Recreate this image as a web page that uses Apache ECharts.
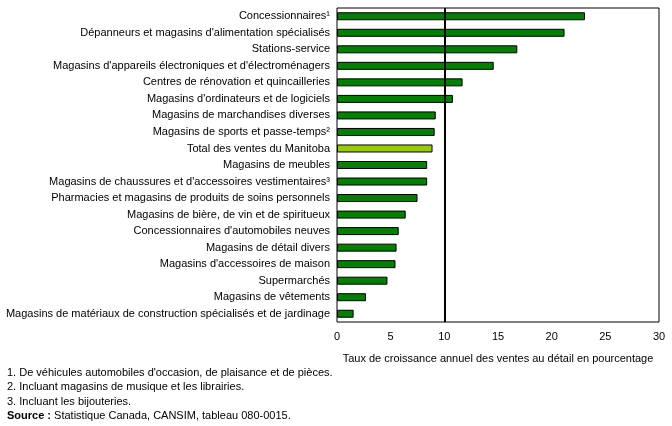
<!DOCTYPE html>
<html>
<head>
<meta charset="utf-8">
<script src="https://cdn.jsdelivr.net/npm/echarts@6/dist/echarts.min.js"></script>
<style>
  html, body { margin: 0; padding: 0; background: #fff; }
  #chart { width: 672px; height: 426px; }
</style>
</head>
<body>
<div id="chart"></div>
<script>
// catégories, de haut en bas
const categories = [
  'Concessionnaires¹',
  'Dépanneurs et magasins d\'alimentation spécialisés',
  'Stations-service',
  'Magasins d\'appareils électroniques et d\'électroménagers',
  'Centres de rénovation et quincailleries',
  'Magasins d\'ordinateurs et de logiciels',
  'Magasins de marchandises diverses',
  'Magasins de sports et passe-temps²',
  'Total des ventes du Manitoba',
  'Magasins de meubles',
  'Magasins de chaussures et d\'accessoires vestimentaires³',
  'Pharmacies et magasins de produits de soins personnels',
  'Magasins de bière, de vin et de spiritueux',
  'Concessionnaires d\'automobiles neuves',
  'Magasins de détail divers',
  'Magasins d\'accessoires de maison',
  'Supermarchés',
  'Magasins de vêtements',
  'Magasins de matériaux de construction spécialisés et de jardinage'
]
const growth = [23.1, 21.2, 16.8, 14.6, 11.7, 10.8, 9.2, 9.1, 8.9, 8.4, 8.4, 7.5, 6.4, 5.75, 5.55, 5.45, 4.7, 2.7, 1.55]
const totalLabel = 'Total des ventes du Manitoba'
const xTicks = [0, 5, 10, 15, 20, 25, 30]
const refValue = 10
const footnotes = [
  '1. De véhicules automobiles d\'occasion, de plaisance et de pièces.',
  '2. Incluant magasins de musique et les librairies.',
  '3. Incluant les bijouteries.'
]
const sourceNote = 'Statistique Canada, CANSIM, tableau 080-0015.'

const font = 'Liberation Sans, Arial, sans-serif'
const myChart = echarts.init(document.getElementById('chart'))

const option = {
  animation: false,
  grid: { left: 337, right: 13, top: 8, bottom: 104, show: true, borderColor: '#000', borderWidth: 1 },
  xAxis: {
    type: 'value',
    min: xTicks[0],
    max: xTicks[xTicks.length - 1],
    interval: 5,
    axisLine: { show: false },
    axisTick: { show: false },
    splitLine: { show: false },
    axisLabel: { color: '#000', fontSize: 11, fontFamily: font, margin: 9 },
    name: 'Taux de croissance annuel des ventes au détail en pourcentage',
    nameLocation: 'middle',
    nameGap: 31,
    nameTextStyle: { color: '#000', fontSize: 11, fontFamily: font }
  },
  yAxis: {
    type: 'category',
    inverse: true,
    data: categories,
    axisLine: { show: false },
    axisTick: { show: false },
    axisLabel: { color: '#000', fontSize: 11, fontFamily: font, margin: 7 }
  },
  series: [{
    type: 'bar',
    barWidth: 8,
    data: growth.map((v, i) => ({
      value: v,
      itemStyle: { color: categories[i] === totalLabel ? '#99cc00' : '#007f00' }
    })),
    itemStyle: { borderColor: '#000', borderWidth: 1 },
    silent: true,
    markLine: {
      silent: true,
      symbol: 'none',
      label: { show: false },
      lineStyle: { color: '#000', width: 2, type: 'solid' },
      data: [{ xAxis: refValue }]
    }
  }],
  graphic: [
    ...footnotes.map((t, i) => ({
      type: 'text', left: 7, top: 367 + i * 14.5,
      style: { text: t, fill: '#000', font: '11px ' + font }
    })),
    {
      type: 'text', left: 7, top: 367 + 3 * 14.5,
      style: {
        text: '{b|Source :} ' + sourceNote,
        fill: '#000', font: '11px ' + font,
        rich: { b: { fontWeight: 'bold', fontSize: 11, fontFamily: font } }
      }
    }
  ]
}
myChart.setOption(option, true)
</script>
</body>
</html>
